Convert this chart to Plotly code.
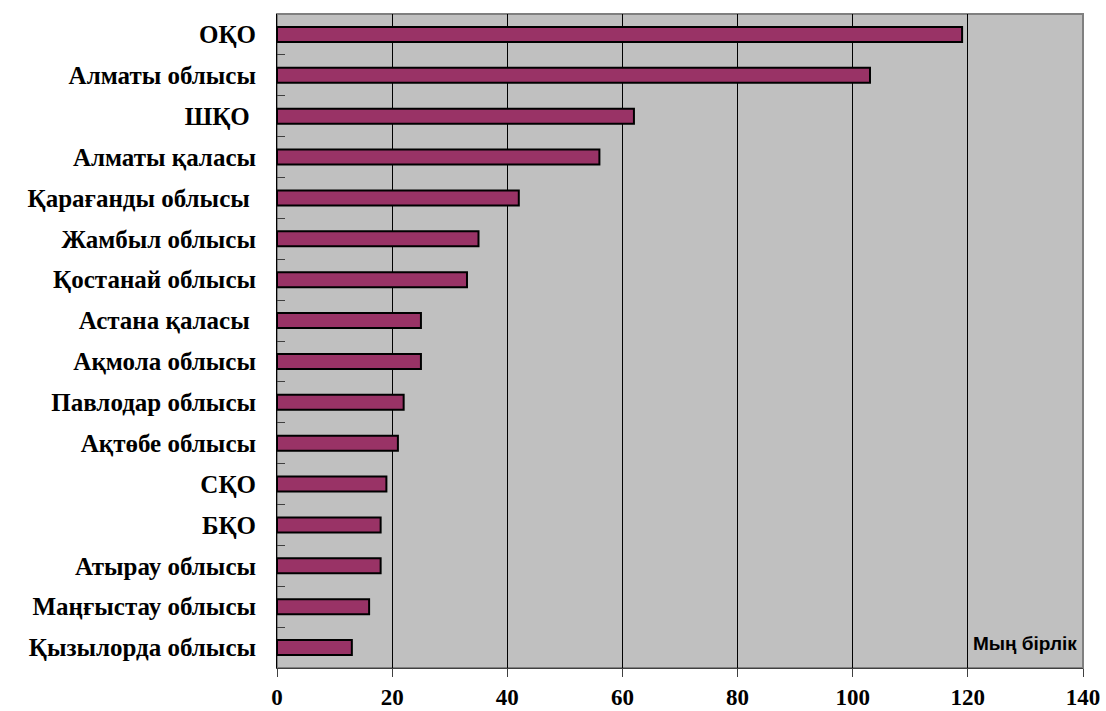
import plotly.graph_objects as go

regions = ["ОҚО", "Алматы облысы", "ШҚО\u00a0", "Алматы қаласы", "Қарағанды облысы\u00a0",
           "Жамбыл облысы", "Қостанай облысы", "Астана қаласы\u00a0", "Ақмола облысы",
           "Павлодар облысы", "Ақтөбе облысы", "СҚО", "БҚО", "Атырау облысы",
           "Маңғыстау облысы", "Қызылорда облысы"]
values = [119, 103, 62, 56, 42, 35, 33, 25, 25, 22, 21, 19, 18, 18, 16, 13]
x_ticks = [0, 20, 40, 60, 80, 100, 120, 140]
unit_label = "Мың бірлік"

fig = go.Figure(go.Bar(
    y=regions, x=values, orientation="h", width=0.37,
    marker=dict(color="#993366", line=dict(color="black", width=2)),
))

fig.update_layout(
    width=1106, height=711,
    margin=dict(l=277, r=23, t=14, b=43, autoexpand=False),
    paper_bgcolor="white", plot_bgcolor="#C0C0C0",
    showlegend=False,
    annotations=[dict(text="<b>" + unit_label + "</b>", xref="x", yref="paper",
                      x=139.3, y=0.018, xanchor="right", yanchor="bottom",
                      showarrow=False,
                      font=dict(family="Liberation Sans, Arial", size=19, color="black"))],
    shapes=[dict(type="rect", xref="paper", yref="paper", x0=0, x1=1, y0=0, y1=1,
                 line=dict(color="#808080", width=2), layer="below")],
)

fig.update_xaxes(
    range=[0, 140], tickvals=x_ticks, showgrid=True, gridcolor="black", gridwidth=1,
    zeroline=False, showline=True, linecolor="#404040", linewidth=1,
    ticks="outside", ticklen=8, tickcolor="#404040",
    ticklabelstandoff=0, automargin=False,
    tickfont=dict(family="Liberation Serif, Times New Roman", size=23, color="black", weight="bold"),
    fixedrange=True,
)
fig.update_yaxes(
    autorange="reversed", type="category", showgrid=False,
    showline=True, linecolor="black", linewidth=1,
    ticks="inside", tickson="boundaries", ticklen=8, tickcolor="#404040",
    ticklabelstandoff=15, automargin=False,
    tickfont=dict(family="Liberation Serif, Times New Roman", size=25, color="black", weight="bold"),
    fixedrange=True,
)

fig.write_html("out.html")
